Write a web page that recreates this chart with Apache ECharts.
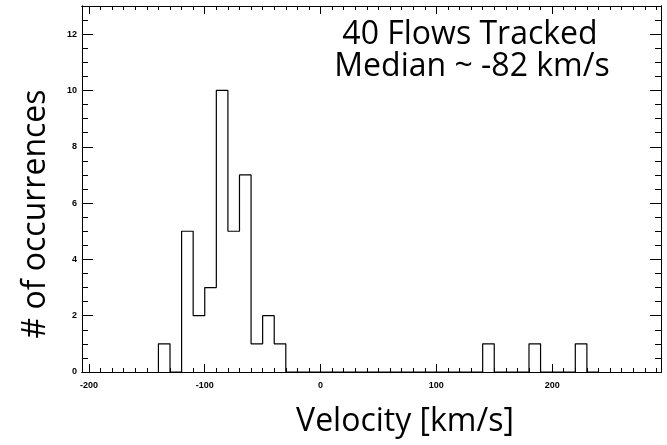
<!DOCTYPE html>
<html>
<head>
<meta charset="utf-8">
<script src="https://cdn.jsdelivr.net/npm/echarts@6/dist/echarts.min.js"></script>
<style>html,body{margin:0;padding:0;background:#fff;}#c{width:667px;height:445px;}</style>
</head>
<body>
<div id="c"></div>
<script>
// Histogram bins (left edges, km/s) and counts
const binLeft = [-140, -130, -120, -110, -100, -90, -80, -70, -60, -50, -40, -30, 140, 150, 180, 190, 220, 230];
const binWidth = 10;
const counts  = [1, 0, 5, 2, 3, 10, 5, 7, 1, 2, 1, 0, 1, 0, 1, 0, 1, 0];

// Axis tick values
const xMajor = [-200, -100, 0, 100, 200];
const xMinor = [];
for (let v = -200; v <= 290; v += 10) xMinor.push(v);
const yMajor = [0, 2, 4, 6, 8, 10, 12];
const yMinor = [];
for (let v = 0; v <= 13; v += 0.5) yMinor.push(v);

const xMin = -206, xMax = 294, yMin = 0, yMax = 13;

// Build step outline from bins
const outline = [];
for (let i = 0; i < binLeft.length; i++) {
  const l = binLeft[i], r = binLeft[i] + binWidth, c = counts[i];
  if (i === 0 || binLeft[i - 1] + binWidth !== l) outline.push([l, 0]);
  outline.push([l, c]);
  outline.push([r, c]);
  if (i === binLeft.length - 1 || binLeft[i + 1] !== r) outline.push([r, 0]);
}

const labelFont = { fontFamily: 'Liberation Sans', fontWeight: 'bold', fontSize: 9, color: '#000' };

function xAx(pos, ticks, len, labels) {
  return {
    type: 'value', position: pos, min: xMin, max: xMax,
    axisLine: { show: true, onZero: false, lineStyle: { color: '#000', width: 1 } },
    axisTick: { show: true, inside: true, length: len, customValues: ticks, lineStyle: { color: '#000', width: 1 } },
    axisLabel: labels ? Object.assign({ show: true, customValues: ticks, margin: 9 }, labelFont) : { show: false },
    splitLine: { show: false }
  };
}
function yAx(pos, ticks, len, labels) {
  return {
    type: 'value', position: pos, min: yMin, max: yMax,
    axisLine: { show: true, onZero: false, lineStyle: { color: '#000', width: 1 } },
    axisTick: { show: true, inside: true, length: len, customValues: ticks, lineStyle: { color: '#000', width: 1 } },
    axisLabel: labels ? Object.assign({ show: true, customValues: ticks, margin: 5 }, labelFont) : { show: false },
    splitLine: { show: false }
  };
}

const bigFont = '32px "Open Sans"';
const chart = echarts.init(document.getElementById('c'), null, { renderer: 'canvas' });
chart.setOption({
  animation: false,
  backgroundColor: '#fff',
  grid: { left: 82, right: 6, top: 6, bottom: 73, containLabel: false },
  xAxis: [
    xAx('bottom', xMajor, 8, true),
    xAx('bottom', xMinor, 4, false),
    xAx('top', xMajor, 8, false),
    xAx('top', xMinor, 4, false)
  ],
  yAxis: [
    yAx('left', yMajor, 11, true),
    yAx('left', yMinor, 6, false),
    yAx('right', yMajor, 11, false),
    yAx('right', yMinor, 6, false)
  ],
  series: [{
    type: 'line', xAxisIndex: 0, yAxisIndex: 0,
    data: outline, showSymbol: false, symbol: 'none',
    lineStyle: { color: '#000', width: 1.2 }
  }],
  graphic: [
    { type: 'text', style: { text: '40 Flows Tracked', x: 470, y: 35, align: 'center', verticalAlign: 'middle', font: bigFont, fill: '#000' } },
    { type: 'text', style: { text: 'Median ~ -82 km/s', x: 472, y: 67, align: 'center', verticalAlign: 'middle', font: bigFont, fill: '#000' } },
    { type: 'text', style: { text: 'Velocity [km/s]', x: 405, y: 422, align: 'center', verticalAlign: 'middle', font: bigFont, fill: '#000' } },
    { type: 'text', x: 36, y: 214, rotation: Math.PI / 2, style: { text: '# of occurrences', x: 0, y: 0, align: 'center', verticalAlign: 'middle', font: bigFont, fill: '#000' } }
  ]
});
</script>
</body>
</html>
